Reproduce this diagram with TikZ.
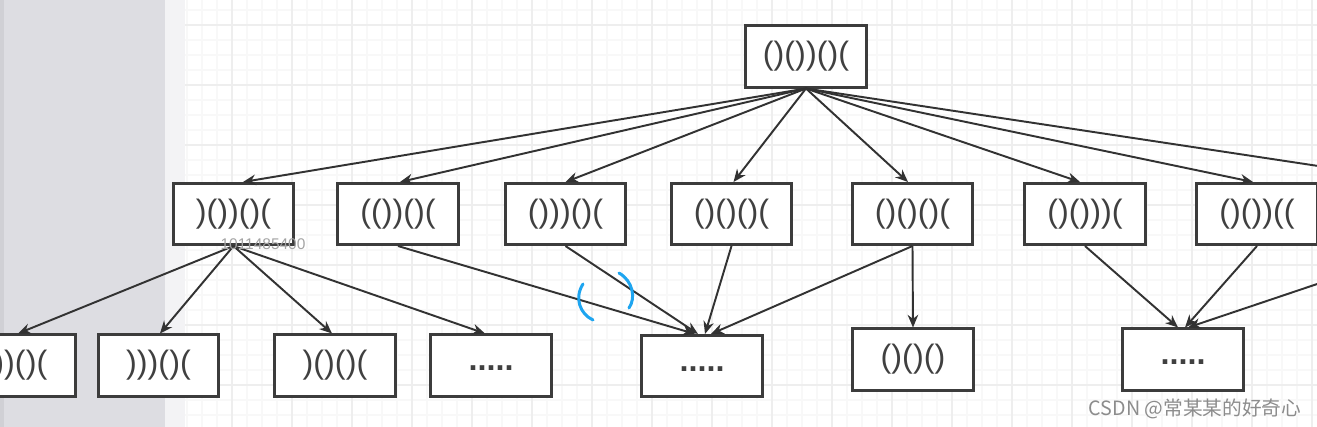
\documentclass[tikz,border=0pt]{standalone}
\usepackage{fontspec}
\setmainfont{Liberation Sans}
\newfontfamily\cjk{Noto Sans CJK SC}
\usetikzlibrary{arrows.meta,calc}
\definecolor{stripgray}{RGB}{221,221,226}
\definecolor{stripedge}{RGB}{208,208,213}
\definecolor{bandgray}{RGB}{243,243,245}
\definecolor{gridminor}{RGB}{248,248,248}
\definecolor{gridmajor}{RGB}{238,238,238}
\definecolor{boxline}{RGB}{60,60,60}
\definecolor{edgecol}{RGB}{50,50,50}
\definecolor{annot}{RGB}{30,165,240}
\definecolor{wmgray}{RGB}{140,140,140}
\newcommand{\dotsrow}{\raisebox{-3pt}{\textbf{.....}}}
\begin{document}
\begin{tikzpicture}[x=0.01cm,y=-0.01cm,
  box/.style={draw=boxline,line width=0.85pt,fill=white,minimum width=1.2cm,
    minimum height=0.61cm,inner sep=0pt,font=\fontsize{9.2}{9.2}\selectfont,text=black!75},
  edge/.style={draw=edgecol,line width=0.55pt,-{Stealth[length=3.6pt,width=3pt]}},
  annotpen/.style={draw=annot,line width=0.85pt,line cap=round}]
\useasboundingbox (0,0) rectangle (1317,427);
\clip (0,0) rectangle (1317,427);
% background
\fill[white] (0,0) rectangle (1317,427);
\fill[stripgray] (0,0) rectangle (165,427);
\fill[stripedge] (0,0) rectangle (4,427);
\fill[bandgray] (165,0) rectangle (185,427);
% grid
\foreach \x in {187,202,...,1317} \draw[gridminor,line width=0.3pt] (\x,0) -- (\x,427);
\foreach \y in {10,25,...,427} \draw[gridminor,line width=0.3pt] (185,\y) -- (1317,\y);
\foreach \x in {232,292,...,1317} \draw[gridmajor,line width=0.4pt] (\x,0) -- (\x,427);
\foreach \y in {25,85,...,427} \draw[gridmajor,line width=0.4pt] (185,\y) -- (1317,\y);

% nodes
\node[box] (top) at (806,56.5) {()())()(};
\node[box] (n1) at (233.5,214) {)())()(};
\node[box] (n2) at (398,214) {(())()(};
\node[box] (n3) at (565.5,214) {()))()(};
\node[box] (n4) at (731.5,214) {()()()(};
\node[box] (n5) at (912.5,214) {()()()(};
\node[box] (n6) at (1085,214) {()()))(};
\node[box] (n7) at (1257,214) {()())((};
\node[box] (n8) at (1430,214) {};
\node[box] (r1) at (15,365.5) {())()(};
\node[box] (r2) at (158.5,365.5) {)))()(};
\node[box] (r3) at (335,365.5) {)()()(};
\node[box] (r4) at (491,365.5) {\dotsrow};
\node[box] (r5) at (702,366) {\dotsrow};
\node[box] (r6) at (913,359.5) {()()()};
\node[box] (r7) at (1183,359.5) {\dotsrow};

% edges from top
\draw[edge] (top.south) -- ($(n1.north)+(9.5,0)$);
\draw[edge] (top.south) -- ($(n2.north)+(2,0)$);
\draw[edge] (top.south) -- (n3.north);
\draw[edge] (top.south) -- ($(n4.north)+(2,0)$);
\draw[edge] (top.south) -- ($(n5.north)+(-4.5,0)$);
\draw[edge] (top.south) -- ($(n6.north)+(-5,0)$);
\draw[edge] (top.south) -- ($(n7.north)+(-4,0)$);
\draw[edge] (top.south) -- ($(n8.north)+(-6,0)$);
% second level
\draw[edge] (n1.south) -- ($(r1.north)+(3,0)$);
\draw[edge] (n1.south) -- ($(r2.north)+(1.5,0)$);
\draw[edge] (n1.south) -- ($(r3.north)+(-3,0)$);
\draw[edge] (n1.south) -- ($(r4.north)+(-6,0)$);
\draw[edge] (n2.south) -- ($(r5.north)+(-7,0)$);
\draw[edge] (n3.south) -- ($(r5.north)+(-4,0)$);
\draw[edge] (n4.south) -- ($(r5.north)+(3,0)$);
\draw[edge] (n5.south) -- ($(r5.north)+(9,0)$);
\draw[edge] (n5.south) -- (r6.north);
\draw[edge] (n6.south) -- ($(r7.north)+(-5,0)$);
\draw[edge] (n7.south) -- ($(r7.north)+(2,0)$);
\draw[edge] (n8.south) -- ($(r7.north)+(5,0)$);

% blue handwritten parentheses
\draw[annotpen] (583,284) .. controls (574,298) and (580,314) .. (593,320);
\draw[annotpen] (619,273) .. controls (633,281) and (636,298) .. (629,308);

% overlay texts
\node[text=wmgray!80,font=\fontsize{4.4}{5}\selectfont,inner sep=0pt] (num) at (263,244.5) {1011485400};
\node[text=wmgray,font=\cjk\fontsize{5.6}{7}\selectfont,anchor=east,inner sep=0pt] (csdn) at (1302,409) {CSDN @常某某的好奇心};
\end{tikzpicture}
\end{document}
